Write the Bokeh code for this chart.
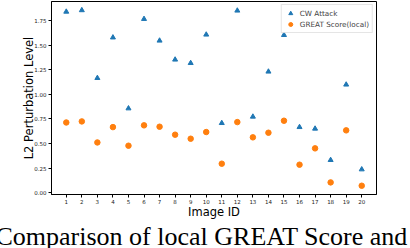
from bokeh.plotting import figure
from bokeh.models import ColumnDataSource, FixedTicker, Legend, LegendItem, NumeralTickFormatter, Range1d, Title
from bokeh.embed import file_html
from bokeh.resources import INLINE

image_ids = list(range(1, 21))
cw_attack = [1.84, 1.855, 1.166, 1.578, 0.857, 1.766, 1.546, 1.353, 1.318, 1.607,
             0.708, 1.851, 0.773, 1.231, 1.603, 0.667, 0.651, 0.332, 1.099, 0.237]
great_local = [0.714, 0.725, 0.511, 0.667, 0.478, 0.685, 0.671, 0.590, 0.549, 0.617,
               0.295, 0.718, 0.563, 0.610, 0.732, 0.285, 0.451, 0.105, 0.634, 0.071]
y_ticks = [0.0, 0.25, 0.5, 0.75, 1.0, 1.25, 1.5, 1.75]
caption = "Comparison of local GREAT Score and"

src = ColumnDataSource(dict(x=image_ids, cw=cw_attack, gs=great_local))

p = figure(width=410, height=248, output_backend="svg", toolbar_location=None,
           x_range=Range1d(0.05, 20.95), y_range=Range1d(-0.018, 1.944),
           min_border_left=51, min_border_right=34, min_border_top=1, min_border_bottom=54)
p.background_fill_color = "white"
p.border_fill_color = "white"
p.outline_line_color = "black"
p.outline_line_width = 1
p.xgrid.visible = False
p.ygrid.visible = False

r_cw = p.scatter("x", "cw", source=src, marker="triangle", size=5,
                 fill_color="#1f77b4", line_color="#1f77b4")
r_gs = p.scatter("x", "gs", source=src, marker="circle", size=5.5,
                 fill_color="#ff7f0e", line_color="#ff7f0e")

for ax in (p.xaxis[0], p.yaxis[0]):
    ax.axis_line_color = "black"
    ax.major_tick_line_color = "black"
    ax.major_tick_in = 0
    ax.major_tick_out = 3
    ax.minor_tick_line_color = None
    ax.major_label_text_font = "DejaVu Sans"
    ax.major_label_text_font_size = "5.5px"
    ax.major_label_text_color = "#222222"
    ax.axis_label_text_font = "DejaVu Sans"
    ax.axis_label_text_font_size = "11.5px"
    ax.axis_label_text_font_style = "normal"
    ax.axis_label_text_color = "black"

p.xaxis.ticker = FixedTicker(ticks=image_ids)
p.xaxis.axis_label = "Image ID"
p.xaxis.major_label_standoff = 1
p.xaxis.axis_label_standoff = -2

p.yaxis.ticker = FixedTicker(ticks=y_ticks)
p.yaxis.formatter = NumeralTickFormatter(format="0.00")
p.yaxis.axis_label = "L2 Perturbation Level"
p.yaxis.major_label_standoff = 2
p.yaxis.axis_label_standoff = -5

legend = Legend(items=[LegendItem(label="CW Attack", renderers=[r_cw]),
                       LegendItem(label="GREAT Score(local)", renderers=[r_gs])],
                location="top_right", margin=3, padding=3, spacing=1,
                glyph_width=11, glyph_height=10, label_height=10, label_standoff=4,
                label_text_font="DejaVu Sans", label_text_font_size="7.25px",
                border_line_color="#cccccc", border_line_width=1,
                background_fill_color="white", background_fill_alpha=0.8)
p.add_layout(legend)

cap = Title(text=caption, text_font="Liberation Serif", text_font_size="26px",
            text_font_style="normal", text_color="black", align="left",
            offset=-56, standoff=-4)
p.add_layout(cap, "below")

open("out.html", "w").write(file_html(p, INLINE))
